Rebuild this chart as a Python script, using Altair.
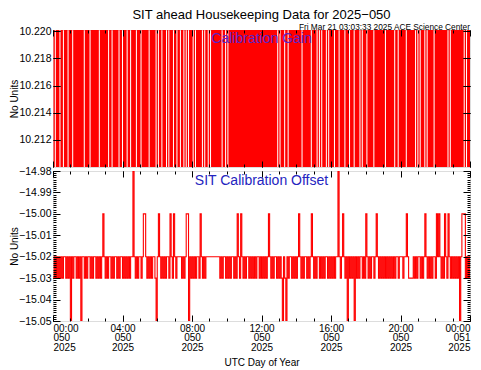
import altair as alt
import pandas as pd

# ---------------- data ----------------
SAMPLE_MINUTES = 4  # spacing of the samples below

# gain level code per sample (1 = high, 0 = low), 4-hour blocks
gain_00_04 = [1,0,0,1,0,1,1,0,1,1, 0,1,0,0,1,0,1,1,0,1, 0,1,0,1,0,1,0,0,1,0,
              1,0,0,1,0,1,0,1,0,1, 1,0,1,0,1,0,1,0,0,1, 0,0,1,0,1,0,1,1,0,1]
gain_04_08 = [1,0,1,0,0,1,0,0,1,0, 1,0,0,1,0,1,1,0,1,0, 1,0,1,1,0,1,0,1,0,0,
              1,1,0,1,1,0,1,0,0,1, 1,0,1,0,0,1,0,0,1,0, 0,1,0,0,1,1,0,0,1,0]
gain_08_12 = [1,1,0,0,1,0,1,0,1,1, 0,0,1,0,0,1,1,0,1,0, 1,0,1,0,1,0,0,1,0,0,
              1,1,0,1,0,1,0,1,0,1, 0,1,0,1,0,1,0,1,0,1, 0,1,0,1,0,1,0,1,0,1]
gain_12_16 = [0,1,0,1,0,1,0,1,0,1, 0,1,0,1,1,0,0,1,0,1, 1,0,1,1,0,1,0,1,0,1,
              0,1,0,1,0,0,1,0,1,0, 1,0,1,1,0,1,0,1,1,0, 0,1,1,0,1,0,0,1,1,0]
gain_16_20 = [1,0,1,1,0,1,0,0,1,0, 1,0,0,1,0,1,1,0,1,0, 0,1,0,1,0,0,1,1,0,1,
              0,0,1,0,1,0,1,1,0,1, 0,1,0,1,0,1,0,0,1,0, 1,0,1,0,1,1,0,1,1,0]
gain_20_24 = [1,0,1,0,1,1,0,1,0,1, 0,1,0,0,1,1,0,0,1,0, 1,1,0,0,1,0,1,0,1,1,
              0,1,0,1,0,1,0,1,0,1, 0,0,1,1,0,1,0,1,0,1, 0,1,0,1,0,0,1,1,0,1,0]
gain_levels = [10.2095, 10.2205]

# offset level code per sample (index into offset_levels), 4-hour blocks
offset_00_04 = [1,0,1,0,1,0,1,0,1,0, 0,1,0,1,0,4,0,1,0,0, 1,0,1,0,4,0,0,1,0,1,
                0,0,1,0,1,0,0,1,0,1, 0,1,0,2,0,1,0,1,0,0, 1,0,1,0,0,1,0,1,0,0]
offset_04_08 = [1,0,1,0,1,0,1,0,0,3, 0,1,0,1,0,0,1,0,2,2, 0,1,0,1,0,1,0,0,1,4,
                0,2,0,1,0,1,0,1,0,0, 1,2,0,1,2,0,1,0,0,0, 0,1,0,1,0,2,2,4,0,1]
offset_08_12 = [0,1,0,1,0,0,1,2,0,1, 0,1,0,0,0,0,0,0,0,0, 0,0,0,0,1,0,1,0,0,1,
                0,1,0,1,0,0,1,0,1,2, 0,1,2,0,1,0,1,0,0,1, 0,1,0,1,0,1,0,0,1,0]
offset_12_16 = [1,0,1,0,1,0,2,0,1,0, 1,0,0,1,0,1,0,1,4,0, 1,4,0,1,0,0,1,0,1,0,
                1,0,2,0,1,0,1,0,0,1, 0,1,0,2,0,1,0,1,0,0, 1,0,1,0,1,0,0,1,0,1]
offset_16_20 = [0,1,0,1,0,0,3,0,1,0, 2,0,1,0,4,0,1,0,1,0, 4,0,1,0,1,0,0,1,0,1,
                2,0,1,0,1,0,0,1,0,2, 0,1,0,1,0,1,0,1,0,1, 0,1,0,1,0,1,0,0,1,0]
offset_20_24 = [0,0,1,0,0,2,0,1,1,1, 1,0,1,0,1,0,0,1,0,1, 0,2,0,1,0,1,0,1,0,0,
                1,2,0,2,0,1,0,1,2,0, 1,2,0,1,0,1,0,1,0,1, 0,4,0,2,2,2,1,0,1,0,1]
offset_levels = [-15.02, -15.03, -15.00, -14.98, -15.05]

hour_ticks = [0, 4, 8, 12, 16, 20, 24]
gain_ticks = [10.212, 10.214, 10.216, 10.218, 10.220]
offset_ticks = [-15.05, -15.04, -15.03, -15.02, -15.01, -15.00, -14.99, -14.98]

# ---------------- tables ----------------
gain_codes = gain_00_04 + gain_04_08 + gain_08_12 + gain_12_16 + gain_16_20 + gain_20_24
offset_codes = offset_00_04 + offset_04_08 + offset_08_12 + offset_12_16 + offset_16_20 + offset_20_24

gain_df = pd.DataFrame({
    "hour": [i * SAMPLE_MINUTES / 60 for i in range(len(gain_codes))],
    "value": [gain_levels[c] for c in gain_codes],
})
offset_df = pd.DataFrame({
    "hour": [i * SAMPLE_MINUTES / 60 for i in range(len(offset_codes))],
    "value": [offset_levels[c] for c in offset_codes],
})

minor_hours = list(range(0, 25))
offset_minor = [round(-15.05 + k * 0.001, 3) for k in range(71)]

FONT = "Liberation Sans"
W = 417
H_TOP = 137
H_BOT = 150
RED = "#ff0000"

xscale = alt.Scale(domain=[0, 24], nice=False, zero=False)


def tick_axis(orient, values, size, **kw):
    return alt.Axis(orient=orient, values=values, tickSize=size, offset=-size,
                    domain=False, grid=False, ticks=True, tickColor="black",
                    tickWidth=1, zindex=1, title=None, labels=False, **kw)


label_expr = ("datum.value >= 24 ? ['00:00', '051', '2025'] : "
              "[(datum.value < 10 ? '0' : '') + datum.value + ':00', '050', '2025']")


def panel(df, yscale, y_major, y_minor, ylab_fmt, h, show_x_labels, stroke_w):
    base = alt.Chart(df)
    if show_x_labels:
        x1 = alt.Axis(orient="bottom", values=hour_ticks, tickSize=6, offset=-6,
                      domain=False, grid=False, tickColor="black", zindex=1,
                      labels=True, labelExpr=label_expr, labelFont=FONT,
                      labelFontSize=10, labelLineHeight=9.5, labelPadding=2,
                      labelColor="black", labelBaseline="top",
                      title="UTC Day of Year", titleFont=FONT, titleFontSize=10,
                      titleFontWeight="normal", titleColor="black", titlePadding=5)
    else:
        x1 = tick_axis("bottom", hour_ticks, 6)
    y1 = alt.Axis(orient="left", values=y_major, tickSize=7, offset=-7, format=ylab_fmt,
                  domain=False, grid=False, tickColor="black", zindex=1,
                  labelFont=FONT, labelFontSize=10.5, labelPadding=2, labelColor="black",
                  title="No Units", titleFont=FONT, titleFontSize=10,
                  titleFontWeight="normal", titleColor="black", titleAngle=270,
                  titleX=-43, titleY=h / 2, titleAlign="center", titleBaseline="alphabetic")
    line = base.mark_line(interpolate="step-after", clip=True, color=RED,
                          strokeWidth=stroke_w).encode(
        x=alt.X("hour:Q", scale=xscale, axis=x1),
        y=alt.Y("value:Q", scale=yscale, axis=y1),
    )
    layers = [line]
    layers.append(base.mark_line(opacity=0).encode(
        x=alt.X("hour:Q", axis=tick_axis("bottom", minor_hours, 3)),
        y=alt.Y("value:Q", axis=tick_axis("left", y_minor, 3) if y_minor else tick_axis("left", y_major, 7)),
    ))
    layers.append(base.mark_line(opacity=0).encode(
        x=alt.X("hour:Q", axis=tick_axis("top", hour_ticks, 6)),
        y=alt.Y("value:Q", axis=tick_axis("right", y_major, 7)),
    ))
    layers.append(base.mark_line(opacity=0).encode(
        x=alt.X("hour:Q", axis=tick_axis("top", minor_hours, 3)),
        y=alt.Y("value:Q", axis=tick_axis("right", y_minor, 3) if y_minor else tick_axis("right", y_major, 7)),
    ))
    return layers


def text_layer(txt, x, y, size, color, align="center", baseline="middle"):
    return alt.Chart(pd.DataFrame({"label": [txt]})).mark_text(
        font=FONT, fontSize=size, color=color, align=align, baseline=baseline
    ).encode(text="label:N", x=alt.value(x), y=alt.value(y))


top_layers = panel(gain_df, alt.Scale(domain=[10.21, 10.2201], nice=False, zero=False),
                   gain_ticks, None, ".3f", H_TOP, False, 1.3)
top_layers += [
    text_layer("Calibration Gain", W / 2, 9, 14, "#5a24c8"),
    text_layer("SIT ahead Housekeeping Data for 2025\u2212050", W / 2, -11, 13, "black",
               baseline="alphabetic"),
    text_layer("Fri Mar 21 03:03:33 2025 ACE Science Center", W, -0.5, 8.3, "black",
               align="right", baseline="alphabetic"),
]
top = alt.layer(*top_layers).resolve_axis(x="independent", y="independent").properties(
    width=W, height=H_TOP)

bot_layers = panel(offset_df, alt.Scale(domain=[-15.05, -14.98], nice=False, zero=False),
                   offset_ticks, offset_minor, ".2f", H_BOT, True, 1.1)
bot_layers += [text_layer("SIT Calibration Offset", W / 2, 10, 14, "#2424c0")]
bot = alt.layer(*bot_layers).resolve_axis(x="independent", y="independent").properties(
    width=W, height=H_BOT)

chart = alt.vconcat(top, bot, spacing=4, bounds="flush").resolve_scale(
    x="independent", y="independent"
).properties(padding=0).configure_view(stroke="black", strokeWidth=1.2).configure(
    font=FONT, background="white")

chart.save("out.html", embed_options={"renderer": "svg", "actions": False})
